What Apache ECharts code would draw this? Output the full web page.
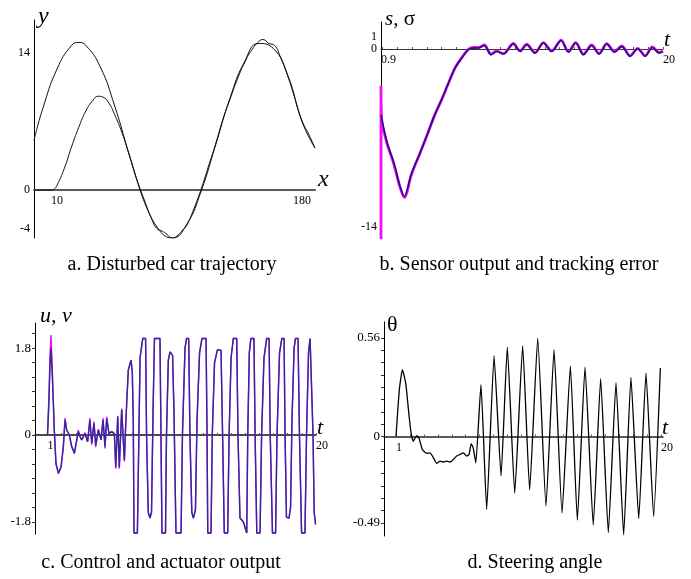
<!DOCTYPE html>
<html>
<head>
<meta charset="utf-8">
<script src="https://cdn.jsdelivr.net/npm/echarts@6/dist/echarts.min.js"></script>
<style>
html, body { margin: 0; padding: 0; background: #fff; }
#mainChart { width: 691px; height: 579px; }
</style>
</head>
<body>
<div id="mainChart"></div>
<script>
// a. trajectory (x, y)
var refPath = [[-6,5.1],[0,8.3],[10,12.4],[20,14.8],[25,15.1],[30,14.8],[40,12.6],[50,8.6],[60,3.7],[70,-0.8],[80,-3.9],[90,-4.9],[100,-3.5],[110,-0.1],[120,4.6],[130,9.4],[140,13.1],[150,15.0],[160,14.5],[170,11.8],[180,7.0],[189,4.3]];
var carPath = [[-6,0],[6,0],[8,0.1],[10,0.5],[15,2.2],[20,4.4],[25,6.4],[30,8.1],[35,9.2],[38.5,9.6],[42,9.5],[46,8.9],[50,7.7],[55,5.9],[60,3.6],[65,1.2],[70,-1.0],[75,-2.7],[79,-3.9],[83,-4.2],[86,-4.5],[90,-4.9],[94,-4.6],[97,-4.1],[100,-3.6],[105,-1.9],[110,0.1],[115,2.4],[120,4.7],[125,7.2],[130,9.3],[135,11.3],[140,13.0],[145,14.3],[150,15.2],[153,15.4],[157,15.0],[161,14.8],[165,13.6],[170,11.7],[175,9.4],[180,7.1],[185,5.6],[189,4.3]];

// b. sensor output s and tracking error sigma (t, value)
var sPts = [[0.9,-5.2],[1.3,-7.3],[1.7,-8.7],[1.85,-9.3],[2.19,-10.8],[2.48,-11.6],[2.96,-9.8],[3.54,-8.2],[4.08,-6.6],[4.5,-5.3],[5.0,-4.0],[5.5,-2.6],[5.91,-1.5],[6.37,-0.71],[6.82,-0.06],[7.15,0.08],[7.49,0.08],[7.9,0.28],[8.35,-0.45],[8.74,-0.19],[9.19,-0.4],[9.86,0.4],[10.32,-0.19],[10.77,0.34],[11.33,-0.32],[11.9,0.47],[12.46,-0.19],[13.1,0.68],[13.59,-0.24],[14.09,0.47],[14.61,-0.45],[15.17,0.28],[15.67,-0.4],[16.19,0.4],[16.71,-0.24],[17.21,0.2],[17.77,-0.58],[18.29,0.02],[18.79,-0.58],[19.28,0.13],[19.74,-0.31],[20,-0.2]];
var sigmaPts = [[0.9,-14.96],[0.9,-2.9],[0.95,-5.6],[1.3,-7.4],[1.7,-8.8],[1.85,-9.4],[2.19,-10.9],[2.48,-11.7],[2.96,-9.9],[3.54,-8.2],[4.08,-6.6],[4.5,-5.3],[5.0,-4.0],[5.5,-2.6],[5.91,-1.5],[6.37,-0.68],[6.82,-0.02],[7.15,0.12],[7.49,0.12],[7.9,0.32],[8.35,-0.4],[8.74,-0.15],[9.19,-0.36],[9.86,0.45],[10.32,-0.15],[10.77,0.38],[11.33,-0.28],[11.9,0.5],[12.46,-0.15],[13.1,0.7],[13.59,-0.2],[14.09,0.5],[14.61,-0.4],[15.17,0.32],[15.67,-0.35],[16.19,0.43],[16.71,-0.2],[17.21,0.24],[17.77,-0.52],[18.29,0.06],[18.79,-0.52],[19.28,0.17],[19.74,-0.27],[20,-0.15]];

// c. control u and actuator v (t, value)
var vEarly = [[1.0,0],[1.1,0.66],[1.18,1.48],[1.25,1.8],[1.37,1.0],[1.48,0.1],[1.6,-0.59],[1.77,-0.79],[1.96,-0.66],[2.12,-0.24],[2.24,0.31],[2.36,0.1],[2.55,0],[2.71,-0.24],[2.9,-0.38],[3.07,-0.1],[3.18,0.07],[3.3,-0.03],[3.42,-0.1],[3.65,0.03],[3.84,-0.14],[4.0,0.31],[4.13,-0.17],[4.29,0.24],[4.41,-0.21],[4.6,0.1],[4.79,-0.1],[4.93,0.31],[5.07,-0.24],[5.19,0.34],[5.35,0.03],[5.54,0.07],[5.73,0.03],[5.83,-0.66],[5.97,0.38],[6.08,-0.66],[6.25,0.52],[6.44,-0.52],[6.52,0.1],[6.61,0.7]];
var uEarly = [[1.0,0],[1.1,0.8],[1.18,1.7],[1.25,2.07],[1.37,1.1],[1.48,0.1],[1.6,-0.6],[1.77,-0.8],[1.96,-0.66],[2.12,-0.24],[2.24,0.35],[2.36,0.1],[2.55,0],[2.71,-0.24],[2.9,-0.38],[3.07,-0.1],[3.18,0.1],[3.3,-0.03],[3.42,-0.1],[3.65,0.05],[3.84,-0.14],[4.0,0.35],[4.13,-0.2],[4.29,0.28],[4.41,-0.25],[4.6,0.12],[4.79,-0.1],[4.93,0.35],[5.07,-0.28],[5.19,0.38],[5.35,0.03],[5.54,0.07],[5.73,0.03],[5.83,-0.7],[5.97,0.4],[6.08,-0.7],[6.25,0.55],[6.44,-0.55],[6.52,0.1],[6.61,0.7]];
var vSquare = [[6.72,1.35],[6.91,1.55],[7.0,1.3],[7.07,0.3],[7.12,-2.03],[7.36,-2.03],[7.44,-0.5],[7.55,1.6],[7.74,2.0],[7.94,2.0],[8.01,0],[8.13,-1.6],[8.25,-1.72],[8.36,-1.6],[8.47,0.5],[8.57,2.0],[8.96,2.0],[9.03,0],[9.1,-2.03],[9.35,-2.03],[9.42,0],[9.55,1.55],[9.67,1.72],[9.85,1.65],[9.95,0.5],[10.09,-2.03],[10.45,-2.03],[10.55,0],[10.73,1.8],[10.84,2.0],[10.99,2.0],[11.08,0],[11.21,-1.6],[11.32,-1.72],[11.47,-1.55],[11.58,0.3],[11.76,1.7],[11.93,2.0],[12.22,2.0],[12.29,0],[12.34,-2.03],[12.57,-2.03],[12.66,0],[12.82,1.5],[13.03,1.77],[13.28,1.75],[13.39,0],[13.51,-2.03],[13.75,-2.03],[13.85,0],[13.99,1.6],[14.15,2.0],[14.39,2.0],[14.48,0],[14.62,-1.72],[14.86,-1.8],[15.1,-2.03],[15.17,0],[15.28,1.7],[15.39,2.0],[15.61,2.0],[15.69,0],[15.81,-2.03],[16.04,-2.03],[16.15,0],[16.32,1.6],[16.51,2.0],[16.68,2.0],[16.76,0],[16.92,-2.03],[17.14,-2.03],[17.24,0],[17.42,1.7],[17.58,2.0],[17.74,2.0],[17.81,0],[17.91,-1.7],[18.09,-1.72],[18.2,-1.5],[18.3,0.3],[18.45,1.8],[18.55,2.0],[18.73,2.0],[18.83,0],[18.98,-2.03],[19.22,-2.03],[19.33,0],[19.47,1.7],[19.58,2.0],[19.72,2.0],[19.79,0],[19.87,-1.6],[19.97,-1.85]];

// d. steering angle theta (t, value)
var thetaPts = [[1.0,0],[1.24,0.266],[1.46,0.379],[1.7,0.3],[1.94,0.115],[2.08,0.02],[2.24,-0.027],[2.48,0.005],[2.65,-0.01],[2.89,-0.074],[3.2,-0.096],[3.44,-0.093],[3.68,-0.121],[3.92,-0.153],[4.16,-0.14],[4.39,-0.145],[4.63,-0.14],[4.87,-0.145],[5.11,-0.13],[5.35,-0.111],[5.59,-0.102],[5.83,-0.093],[6.07,-0.111],[6.24,-0.102],[6.39,-0.04],[6.55,-0.07],[6.72,-0.149],[7.09,0.294],[7.5,-0.413],[8.03,0.458],[8.53,-0.224],[8.98,0.507],[9.51,-0.322],[10.08,0.515],[10.58,-0.304],[11.16,0.558],[11.75,-0.394],[12.33,0.492],[12.9,-0.435],[13.5,0.4],[14.0,-0.475],[14.55,0.394],[15.14,-0.503],[15.67,0.328],[16.22,-0.545],[16.77,0.304],[17.32,-0.558],[17.84,0.335],[18.4,-0.466],[18.92,0.36],[19.47,-0.454],[19.95,0.388]];

// tick labels / tick positions
var aXLabels = [10, 180], aYLabels = [14, 0, -4];
var bXLabels = [0.9, 20], bYLabels = [1, 0, -14];
var cXLabels = [1, 20], cYLabels = [1.8, 0, -1.8];
var dXLabels = [1, 20], dYLabels = [0.56, 0, -0.49];
var tTicks = [1,2,3,4,5,6,7,8,9,10,11,12,13,14,15,16,17,18,19,20];
var cYTicks = [-1.8,-1.5,-1.2,-0.9,-0.6,-0.3,0,0.3,0.6,0.9,1.2,1.5,1.8,2.1];
var dYTicks = [-0.49,-0.42,-0.35,-0.28,-0.21,-0.14,-0.07,0,0.07,0.14,0.21,0.28,0.35,0.42,0.49,0.56];
var captions = ["a. Disturbed car trajectory", "b. Sensor output and tracking error", "c. Control and actuator output", "d. Steering angle"];

var serif = "Liberation Serif";
var grids = [
    { left: 34, top: 20, width: 281, height: 218 },
    { left: 381, top: 22, width: 282, height: 217 },
    { left: 35, top: 323, width: 281, height: 211 },
    { left: 384, top: 322, width: 279, height: 214 }
];

function xAx(idx, min, max, labels, ticks, lineColor, lineWidth, align) {
    return {
        type: "value", gridIndex: idx, min: min, max: max,
        splitLine: { show: false },
        axisLine: { onZero: false, lineStyle: { color: lineColor, width: lineWidth } },
        axisTick: ticks ? { show: true, inside: true, length: 2, customValues: ticks, lineStyle: { color: "#555" } } : { show: false },
        axisLabel: { customValues: labels, fontFamily: serif, fontSize: 12, color: "#000", align: align, margin: 5, showMinLabel: true, showMaxLabel: true }
    };
}
function yAx(idx, min, max, labels, ticks, size) {
    return {
        type: "value", gridIndex: idx, min: min, max: max,
        splitLine: { show: false },
        axisLine: { onZero: false, lineStyle: { color: "#000", width: 1 } },
        axisTick: ticks ? { show: true, length: 3, customValues: ticks, lineStyle: { color: "#333" } } : { show: false },
        axisLabel: { customValues: labels, fontFamily: serif, fontSize: size, color: "#000", margin: 4, showMinLabel: true, showMaxLabel: true }
    };
}
function line(xi, data, color, width, smooth, z) {
    return {
        type: "line", xAxisIndex: xi, yAxisIndex: xi, data: data, smooth: smooth,
        showSymbol: false, symbol: "none", z: z || 2,
        lineStyle: { color: color, width: width }
    };
}
function txt(x, y, text, size, italic, align) {
    return {
        type: "text", x: x, y: y,
        style: {
            text: text, fontFamily: serif, fontSize: size, fontStyle: italic ? "italic" : "normal", fill: "#000",
            align: align || "left", textAlign: align || "left", verticalAlign: "middle", textVerticalAlign: "middle"
        }
    };
}

var chart = echarts.init(document.getElementById("mainChart"));
chart.setOption({
    backgroundColor: "#fff",
    animation: false,
    grid: grids,
    xAxis: [
        xAx(0, -6, 189, aXLabels, null, "#5a5a5a", 2, "center"),
        xAx(1, 0.9, 20, bXLabels, tTicks, "#333", 1, "left"),
        xAx(2, 0.115, 20, cXLabels, tTicks, "#111", 1.5, "left"),
        xAx(3, 0.14, 20.14, dXLabels, tTicks, "#222", 1.5, "left")
    ],
    yAxis: [
        yAx(0, -4.9, 17.4, aYLabels, null, 12),
        yAx(1, -14.96, 2.13, bYLabels, null, 12),
        yAx(2, -2.05, 2.32, cYLabels, cYTicks, 13),
        yAx(3, -0.565, 0.65, dYLabels, dYTicks, 13)
    ],
    series: [
        line(0, refPath, "#111", 1, true),
        line(0, carPath, "#111", 1, true),
        line(1, sigmaPts, "#f010f0", 2.8, 0.3, 2),
        line(1, sPts, "#12127e", 1.5, 0.3, 3),
        line(2, uEarly.concat(vSquare), "#f010f0", 1.4, false, 2),
        line(2, vEarly.concat(vSquare), "#2c2c98", 1.4, false, 3),
        line(3, thetaPts, "#000", 1.3, 0.15)
    ],
    graphic: [
        txt(38, 17, "y", 24, true),
        txt(318, 180, "x", 24, true),
        {
            type: "text", x: 385, y: 19,
            style: {
                text: "{i|s}, σ", fontFamily: serif, fontSize: 21, fill: "#000", verticalAlign: "middle", textVerticalAlign: "middle",
                rich: { i: { fontFamily: serif, fontSize: 21, fontStyle: "italic" } }
            }
        },
        txt(664, 40, "t", 22, true),
        txt(40, 316, "u, v", 22, true),
        txt(317, 428, "t", 22, true),
        txt(387, 325, "θ", 22, false),
        txt(662, 428, "t", 22, true),
        txt(172, 265, captions[0], 20, false, "center"),
        txt(519, 265, captions[1], 20, false, "center"),
        txt(161, 563, captions[2], 20, false, "center"),
        txt(535, 563, captions[3], 20, false, "center")
    ]
});

// move each t / x axis up to the y = 0 line
var moved = [];
for (var i = 0; i < grids.length; i++) {
    var zeroY = chart.convertToPixel({ yAxisIndex: i }, 0);
    moved.push({ offset: zeroY - (grids[i].top + grids[i].height) });
}
chart.setOption({ xAxis: moved });
</script>
</body>
</html>
